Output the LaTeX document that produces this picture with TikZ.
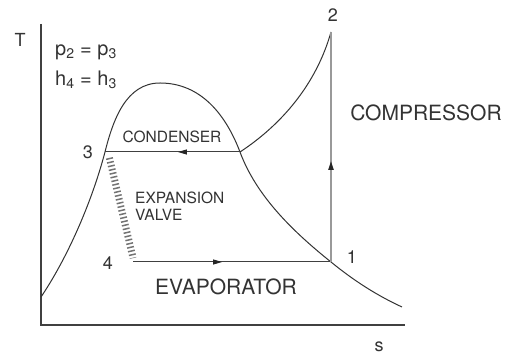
\documentclass[tikz,border=0pt]{standalone}
\usepackage{fontspec}
\setmainfont{TeX Gyre Heros}
\usetikzlibrary{arrows.meta,decorations.markings}

\begin{document}
\begin{tikzpicture}[
  x=1pt,y=1pt,
  axis/.style={line width=1.3pt,draw=black!75},
  curve/.style={line width=1pt,draw=black!80},
  flow/.style={line width=1pt,draw=black!75,postaction={decorate},
    decoration={markings,mark=at position #1 with {\arrow{Triangle[length=9pt,width=5pt,color=black!85]}}}},
  valve/.style={line width=7pt,draw=black!55,dash pattern=on 1.5pt off 2.3pt},
  state/.style={font=\fontsize{18}{18}\selectfont,text=black!80,inner sep=0pt},
  big/.style={font=\fontsize{21}{21}\selectfont,text=black!80,inner sep=0pt},
  small/.style={font=\fontsize{15.5}{17}\selectfont,text=black!80,inner sep=0pt,align=left}
]
  \useasboundingbox (-41,-30) rectangle (474,325);

  % axes
  \draw[axis] (0,301) -- (0,0) -- (364,0);
  \node[state] (T) at (-21,285) {T};
  \node[state] (s) at (338,-22) {s};

  % state points
  \coordinate (p1) at (290,63);
  \coordinate (p2) at (290,293);
  \coordinate (p3) at (64,173);
  \coordinate (p4) at (92,63);
  \coordinate (sat) at (199,173);

  % saturation dome
  \draw[curve] (0,28) .. controls (25,65) and (50,120) .. (p3)
    .. controls (72,205) and (85,242) .. (119,242)
    .. controls (160,242) and (185,210) .. (sat)
    .. controls (215,130) and (250,95) .. (p1)
    .. controls (312,45) and (335,30) .. (361,18);

  % superheated vapour line
  \draw[curve] (sat) .. controls (240,200) and (275,240) .. (p2);

  % cycle
  \draw[flow=0.46] (sat) -- (p3);
  \draw[flow=0.45] (p4) -- (p1);
  \draw[flow=0.44,draw=black!40,line width=1.8pt] (p1) -- (p2);
  \draw[valve,shorten <=6pt,shorten >=4pt] ([xshift=3pt]p3) -- ([xshift=1pt]p4);

  % labels
  \node[state] (n1) at (311,68) {1};
  \node[state] (n2) at (292,310) {2};
  \node[state] (n3) at (47,173) {3};
  \node[state] (n4) at (67,62) {4};
  \node[state,font=\fontsize{20}{20}\selectfont,anchor=west] (pp) at (14,273) {p\textsubscript{2} = p\textsubscript{3}};
  \node[state,font=\fontsize{20}{20}\selectfont,anchor=west] (hh) at (14,245) {h\textsubscript{4} = h\textsubscript{3}};
  \node[small] (cond) at (131,188) {CONDENSER};
  \node[big] (comp) at (385,212) {COMPRESSOR};
  \node[small,anchor=west] (exp) at (94,119) {EXPANSION\\VALVE};
  \node[big] (evap) at (185,38) {EVAPORATOR};
\end{tikzpicture}
\end{document}
